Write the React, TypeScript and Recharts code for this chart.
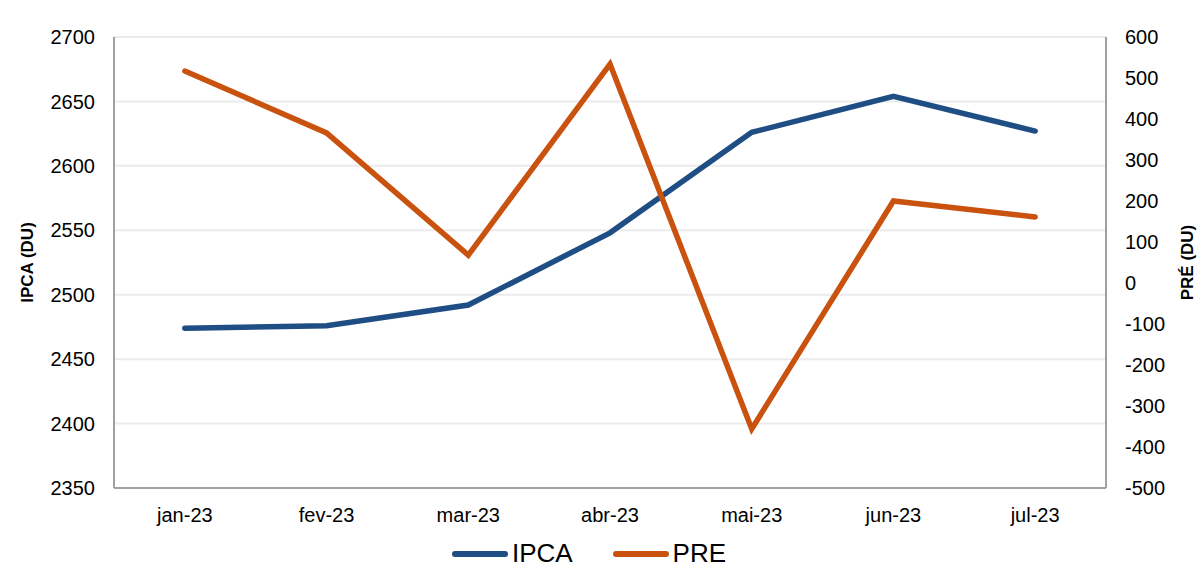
import React from 'react';
import {
  ComposedChart,
  Line,
  XAxis,
  YAxis,
  CartesianGrid,
  Legend,
} from 'recharts';

const months = ['jan-23', 'fev-23', 'mar-23', 'abr-23', 'mai-23', 'jun-23', 'jul-23'];
const ipca = [2474, 2476, 2492, 2548, 2626, 2654, 2627];
const pre = [517, 366, 68, 534, -356, 200, 161];

const leftTicks = [2350, 2400, 2450, 2500, 2550, 2600, 2650, 2700];
const rightTicks = [-500, -400, -300, -200, -100, 0, 100, 200, 300, 400, 500, 600];

const data = months.map((m, i) => ({ month: m, IPCA: ipca[i], PRE: pre[i] }));

const BLUE = '#1F4E85';
const ORANGE = '#C9520E';
const AXIS = '#a0a0a0';
const FONT = '"Liberation Sans", Arial, sans-serif';

const LegendContent = () => (
  <div
    style={{
      display: 'flex',
      justifyContent: 'center',
      alignItems: 'center',
      fontFamily: FONT,
      fontSize: 26,
      color: '#000',
      paddingLeft: 20,
      marginTop: 8,
    }}
  >
    {[
      { name: 'IPCA', color: BLUE },
      { name: 'PRE', color: ORANGE },
    ].map((s) => (
      <div key={s.name} style={{ display: 'flex', alignItems: 'center', marginRight: 40 }}>
        <div
          style={{
            width: 56,
            height: 6,
            borderRadius: 3,
            background: s.color,
            marginRight: 4,
          }}
        />
        <span>{s.name}</span>
      </div>
    ))}
  </div>
);

const App = () => {
  return (
    <div style={{ position: 'absolute', left: 0, top: 0, background: '#fff' }}>
      <ComposedChart
        width={1198}
        height={567}
        data={data}
        margin={{ top: 37, right: 0, bottom: 0, left: 0 }}
      >
        <CartesianGrid vertical={false} stroke="#ebebeb" strokeWidth={2} yAxisId="left" />
        <XAxis
          dataKey="month"
          scale="band"
          height={42}
          tickLine={false}
          axisLine={{ stroke: AXIS, strokeWidth: 2 }}
          tickMargin={14}
          tick={{ fill: '#000', fontSize: 20, fontFamily: FONT }}
          interval={0}
        />
        <YAxis
          yAxisId="left"
          width={114}
          domain={[2350, 2700]}
          ticks={leftTicks}
          tickSize={0}
          tickMargin={19}
          tickLine={false}
          axisLine={{ stroke: AXIS, strokeWidth: 2 }}
          tick={{ fill: '#000', fontSize: 20, fontFamily: FONT }}
          label={{
            value: 'IPCA (DU)',
            angle: -90,
            position: 'center',
            dx: -30,
            style: { fontSize: 17, fontWeight: 'bold', fontFamily: FONT, fill: '#000' },
          }}
        />
        <YAxis
          yAxisId="right"
          orientation="right"
          width={92}
          domain={[-500, 600]}
          ticks={rightTicks}
          tickSize={0}
          tickMargin={19}
          tickLine={false}
          axisLine={{ stroke: AXIS, strokeWidth: 2 }}
          tick={{ fill: '#000', fontSize: 20, fontFamily: FONT }}
          label={{
            value: 'PRÉ (DU)',
            angle: -90,
            position: 'center',
            dx: 35,
            style: { fontSize: 17, fontWeight: 'bold', fontFamily: FONT, fill: '#000' },
          }}
        />
        <Legend verticalAlign="bottom" height={37} content={<LegendContent />} />
        <Line
          yAxisId="left"
          type="linear"
          dataKey="IPCA"
          stroke={BLUE}
          strokeWidth={5.5}
          strokeLinecap="round"
          dot={false}
          isAnimationActive={false}
        />
        <Line
          yAxisId="right"
          type="linear"
          dataKey="PRE"
          stroke={ORANGE}
          strokeWidth={5.5}
          strokeLinecap="round"
          dot={false}
          isAnimationActive={false}
        />
      </ComposedChart>
    </div>
  );
};

export default App;
